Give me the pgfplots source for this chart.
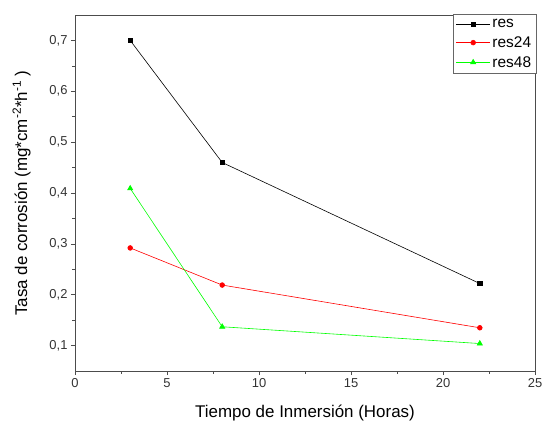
\documentclass[border=0pt]{standalone}
\usepackage{pgfplots}
\pgfplotsset{compat=1.18}
\usepackage{fontspec}
\setmainfont{Liberation Sans}
\definecolor{origgreen}{RGB}{0,255,0}
\pgfplotsset{mylegend/.style={legend image code/.code={\draw[mark repeat=2,mark phase=2] plot coordinates {(0bp,0bp) (17bp,0bp) (34bp,0bp)};}}}
\begin{document}
\begin{tikzpicture}[x=1bp,y=1bp]
\path[use as bounding box] (-75,-56) rectangle (469,371);
\begin{axis}[
  at={(0,0)}, anchor=south west,
  scale only axis, width=460bp, height=356bp,
  xmin=0, xmax=25, ymin=0.05, ymax=0.75,
  xtick={0,5,...,25}, ytick={0.1,0.2,...,0.7},
  minor x tick num=1, minor y tick num=1,
  tick align=outside, axis line style={line width=0.8pt, draw=black!70},
  xtick pos=bottom, ytick pos=left,
  major tick length=4bp, minor tick length=2.5bp,
  every tick/.style={black!70, line width=0.6pt},
  /pgf/number format/assume math mode=true,
  /pgf/number format/use comma,
  /pgf/number format/fixed,
  /pgf/number format/precision=1,
  ticklabel style={font=\fontsize{13}{15}\selectfont, text=black!80},
  xlabel={Tiempo de Inmersión (Horas)},
  ylabel={Tasa de corrosión (mg*cm\textsuperscript{-2}*h\textsuperscript{-1} )},
  label style={font=\fontsize{17}{19}\selectfont},
  xlabel style={yshift=-10bp},
  ylabel style={yshift=12bp},
  legend style={at={(1.003,1.003)}, anchor=north east, font=\fontsize{15.5}{18}\selectfont,
    draw=black!60, line width=0.6pt, inner sep=3pt, row sep=3.5pt},
  legend cell align=left,
]
\addplot[black, line width=0.6pt, mark=square*, mark size=2.2pt, mylegend] coordinates {(3,0.700) (8,0.460) (22,0.222)};
\addlegendentry{res}
\addplot[red, line width=0.6pt, mark=*, mark size=2.4pt, mylegend] coordinates {(3,0.292) (8,0.219) (22,0.135)};
\addlegendentry{res24}
\addplot[origgreen, line width=0.6pt, mark=triangle*, mark size=3pt, mylegend] coordinates {(3,0.409) (8,0.137) (22,0.104)};
\addlegendentry{res48}
\end{axis}
\end{tikzpicture}
\end{document}
